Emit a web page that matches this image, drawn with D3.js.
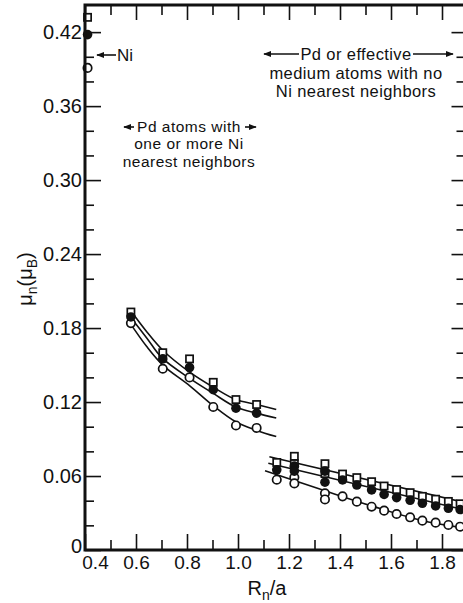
<!DOCTYPE html>
<html>
<head>
<meta charset="utf-8">
<script src="https://cdnjs.cloudflare.com/ajax/libs/d3/7.8.5/d3.min.js"></script>
<style>
  body { margin: 0; background: #fff; }
  text { font-family: "Liberation Sans", "DejaVu Sans", sans-serif; fill: #111; }
</style>
</head>
<body>
<div id="chart"></div>
<script>
// Ni atoms (drawn on the left axis)
let niX = 0.41
let niSquare = [0.432]
let niFilled = [0.418]
let niOpen = [0.391]

// Pd atoms with one or more Ni nearest neighbors
let nearX = [0.580, 0.705, 0.810, 0.903, 0.992, 1.073]
let nearSquare = [0.193, 0.160, 0.155, 0.136, 0.122, 0.118]
let nearFilled = [0.189, 0.155, 0.148, 0.130, 0.115, 0.111]
let nearOpen = [0.184, 0.147, 0.140, 0.116, 0.101, 0.099]

// Pd or effective medium atoms, no Ni nearest neighbors
let farX = [1.152, 1.221, 1.221, 1.341, 1.341, 1.41, 1.466, 1.524, 1.573, 1.622, 1.675, 1.723, 1.775, 1.825, 1.871]
let farSquare = [0.071, 0.076, 0.070, 0.070, 0.062, 0.0616, 0.0587, 0.0554, 0.0519, 0.0490, 0.0465, 0.0435, 0.0412, 0.0394, 0.0375]
let farFilled = [0.065, 0.068, 0.064, 0.064, 0.055, 0.0568, 0.0527, 0.0487, 0.0451, 0.0425, 0.0403, 0.0379, 0.0357, 0.0338, 0.0328]
let farOpen = [0.057, 0.059, 0.054, 0.046, 0.041, 0.0435, 0.0392, 0.0351, 0.0319, 0.0292, 0.0265, 0.0238, 0.0222, 0.0203, 0.0189]

// fitted curves, nodes
let curveUpper = [[0.576, 0.195], [0.642, 0.177], [0.705, 0.162], [0.812, 0.144], [0.903, 0.132], [0.991, 0.122], [1.073, 0.118], [1.150, 0.114]]
let curveMiddle = [[0.570, 0.191], [0.642, 0.172], [0.701, 0.156], [0.812, 0.139], [0.903, 0.127], [0.991, 0.116], [1.073, 0.111], [1.150, 0.107]]
let curveLower = [[0.570, 0.186], [0.642, 0.165], [0.705, 0.150], [0.812, 0.133], [0.903, 0.117], [0.991, 0.104], [1.073, 0.097], [1.150, 0.092]]
let lineUpper = [[1.123, 0.0757], [1.90, 0.038]]
let lineMiddle = [[1.119, 0.0703], [1.90, 0.032]]
let lineLower = [[1.106, 0.0643], [1.341, 0.048], [1.52, 0.036], [1.72, 0.024], [1.90, 0.0175]]

// ticks
let xMajor = [0.4, 0.6, 0.8, 1.0, 1.2, 1.4, 1.6, 1.8]
let xMinor = [0.5, 0.7, 0.9, 1.1, 1.3, 1.5, 1.7, 1.9]
let yMajor = [0, 0.06, 0.12, 0.18, 0.24, 0.30, 0.36, 0.42]
let yMinor = [0.02, 0.04, 0.08, 0.10, 0.14, 0.16, 0.20, 0.22, 0.26, 0.28, 0.32, 0.34, 0.38, 0.40]

var width = 463, height = 603
var margin = { top: 5, left: 85, bottom: 53 }
var plotW = 382.5, plotH = height - margin.top - margin.bottom

var svg = d3.select("#chart").append("svg")
  .attr("width", width)
  .attr("height", height)

svg.append("defs").append("marker")
  .attr("id", "arrow")
  .attr("viewBox", "0 0 10 10")
  .attr("refX", 9).attr("refY", 5)
  .attr("markerWidth", 8).attr("markerHeight", 8)
  .attr("markerUnits", "userSpaceOnUse")
  .attr("orient", "auto")
  .append("path").attr("d", "M0,1 L10,5 L0,9 Z").attr("fill", "#111")

var g = svg.append("g").attr("transform", `translate(${margin.left},${margin.top})`)

let x = d3.scaleLinear().domain([0.4, 1.9]).range([0, plotW])
let y = d3.scaleLinear().domain([0, 0.442]).range([plotH, 0])

// #############
// eixos / ticks
// #############
function styleAxis(sel) {
  sel.select(".domain").remove()
  sel.selectAll(".tick line").attr("stroke", "#111").attr("stroke-width", 1.6)
  sel.selectAll(".tick text").style("font-size", "19px").attr("fill", "#111")
}

let xAxisB = g.append("g").attr("transform", `translate(0,${plotH})`)
  .call(d3.axisBottom(x).tickValues(xMajor).tickSizeInner(-16).tickSizeOuter(0).tickPadding(6).tickFormat(d3.format(".1f")))
  .call(styleAxis)
// o rotulo 0.4 fica deslocado para a direita no original
xAxisB.selectAll(".tick text").filter(d => d === 0.4).attr("dx", 10)
g.append("g").attr("transform", `translate(0,${plotH})`)
  .call(d3.axisBottom(x).tickValues(xMinor).tickSizeInner(-10).tickSizeOuter(0).tickFormat(""))
  .call(styleAxis)
g.append("g")
  .call(d3.axisTop(x).tickValues(xMajor).tickSizeInner(-15).tickSizeOuter(0).tickFormat(""))
  .call(styleAxis)
g.append("g")
  .call(d3.axisTop(x).tickValues(xMinor).tickSizeInner(-10).tickSizeOuter(0).tickFormat(""))
  .call(styleAxis)

let yAxisL = g.append("g")
  .call(d3.axisLeft(y).tickValues(yMajor).tickSizeInner(-16).tickSizeOuter(0).tickPadding(3)
    .tickFormat(d => d === 0 ? "0" : d3.format(".2f")(d)))
  .call(styleAxis)
yAxisL.selectAll(".tick text").style("font-size", "20px")
yAxisL.selectAll(".tick text").filter(d => d === 0).attr("dy", "0.1em")
g.append("g")
  .call(d3.axisLeft(y).tickValues(yMinor).tickSizeInner(-9).tickSizeOuter(0).tickFormat(""))
  .call(styleAxis)
g.append("g").attr("transform", `translate(${plotW},0)`)
  .call(d3.axisRight(y).tickValues(yMajor).tickSizeInner(-16).tickSizeOuter(0).tickFormat(""))
  .call(styleAxis)
g.append("g").attr("transform", `translate(${plotW},0)`)
  .call(d3.axisRight(y).tickValues(yMinor).tickSizeInner(-11).tickSizeOuter(0).tickFormat(""))
  .call(styleAxis)

// ##############
// curvas e retas
// ##############
let line = d3.line().x(d => x(d[0])).y(d => y(d[1]))
let smooth = d3.line().x(d => x(d[0])).y(d => y(d[1])).curve(d3.curveCatmullRom)

;[curveUpper, curveMiddle, curveLower].forEach(c => {
  g.append("path").datum(c).attr("d", smooth)
    .attr("fill", "none").attr("stroke", "#111").attr("stroke-width", 1.6)
})
;[lineUpper, lineMiddle].forEach(c => {
  g.append("path").datum(c).attr("d", line)
    .attr("fill", "none").attr("stroke", "#111").attr("stroke-width", 1.6)
})
g.append("path").datum(lineLower).attr("d", smooth)
  .attr("fill", "none").attr("stroke", "#111").attr("stroke-width", 1.6)

// ########
// pontos
// ########
function zip(xs, ys) { return ys.map((v, i) => [Array.isArray(xs) ? xs[i] : xs, v]) }

function drawSquares(data) {
  g.selectAll(null).data(data).enter().append("rect")
    .attr("x", d => x(d[0]) - 3.6).attr("y", d => y(d[1]) - 3.6)
    .attr("width", 7.2).attr("height", 7.2)
    .attr("fill", "#fff").attr("stroke", "#111").attr("stroke-width", 1.7)
}
function drawFilled(data) {
  g.selectAll(null).data(data).enter().append("circle")
    .attr("cx", d => x(d[0])).attr("cy", d => y(d[1])).attr("r", 4.8)
    .attr("fill", "#111")
}
function drawOpen(data) {
  g.selectAll(null).data(data).enter().append("circle")
    .attr("cx", d => x(d[0])).attr("cy", d => y(d[1])).attr("r", 4.2)
    .attr("fill", "#fff").attr("stroke", "#111").attr("stroke-width", 1.7)
}

drawOpen(zip(nearX, nearOpen).concat(zip(farX, farOpen), zip(niX, niOpen)))
drawSquares(zip(nearX, nearSquare).concat(zip(farX, farSquare), zip(niX, niSquare)))
drawFilled(zip(nearX, nearFilled).concat(zip(farX, farFilled), zip(niX, niFilled)))

// frame
g.append("rect").attr("width", plotW).attr("height", plotH)
  .attr("fill", "none").attr("stroke", "#111").attr("stroke-width", 3)

// ########
// legendas
// ########
function arrow(x1, y1, x2, y2) {
  svg.append("line").attr("x1", x1).attr("y1", y1).attr("x2", x2).attr("y2", y2)
    .attr("stroke", "#111").attr("stroke-width", 1.6).attr("marker-end", "url(#arrow)")
}

arrow(116, 55, 97, 55)
svg.append("text").attr("x", 117).attr("y", 61).style("font-size", "17px").text("Ni")

arrow(299, 54, 264, 54)
arrow(413, 54, 453, 54)
;["Pd or effective", "medium atoms with no", "Ni nearest neighbors"].forEach((t, i) => {
  svg.append("text").attr("x", 356).attr("y", 60 + i * 18.6)
    .attr("text-anchor", "middle").style("font-size", "16.5px").style("letter-spacing", "0.4px")
    .text(t)
})

arrow(134, 127, 124, 127)
arrow(245, 127, 256, 127)
;["Pd atoms with", "one or more Ni", "nearest neighbors"].forEach((t, i) => {
  svg.append("text").attr("x", 189).attr("y", 132 + i * 17.4)
    .attr("text-anchor", "middle").style("font-size", "15.5px").style("letter-spacing", "0.5px")
    .text(t)
})

// titulos dos eixos
let xt = svg.append("text").attr("x", 267).attr("y", 595).attr("text-anchor", "middle").style("font-size", "20px")
xt.append("tspan").text("R")
xt.append("tspan").attr("dy", 5).style("font-size", "14px").text("n")
xt.append("tspan").attr("dy", -5).text("/a")

let yt = svg.append("text").attr("transform", "translate(32,279) rotate(-90)")
  .attr("text-anchor", "middle").style("font-size", "20px")
yt.append("tspan").text("μ")
yt.append("tspan").attr("dy", 5).style("font-size", "14px").text("n")
yt.append("tspan").attr("dy", -5).text("(μ")
yt.append("tspan").attr("dy", 5).style("font-size", "14px").text("B")
yt.append("tspan").attr("dy", -5).text(")")
</script>
</body>
</html>
